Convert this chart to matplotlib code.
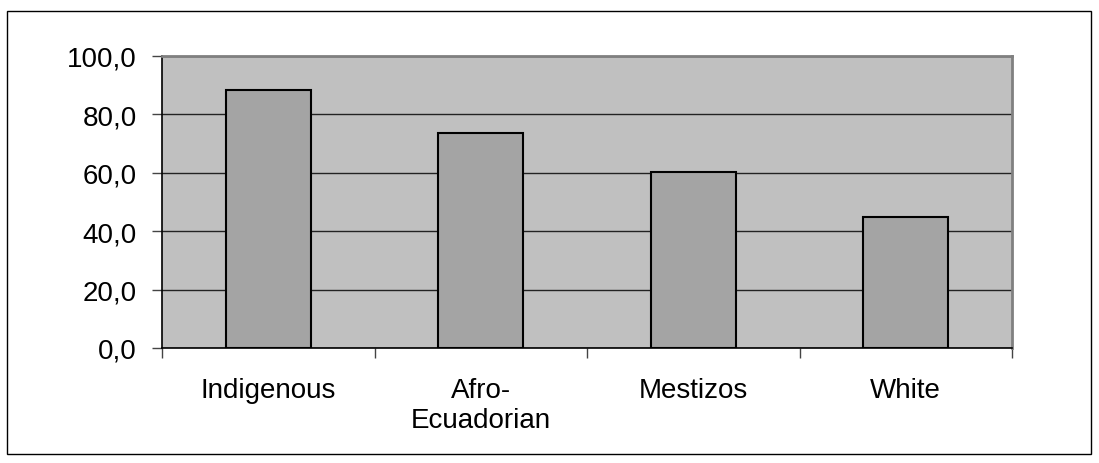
import matplotlib.pyplot as plt
from matplotlib.patches import Rectangle
from matplotlib.ticker import FuncFormatter, FixedLocator

categories = ['Indigenous', 'Afro-\nEcuadorian', 'Mestizos', 'White']
values = [88.3, 73.7, 60.4, 44.7]
yticks = [0, 20, 40, 60, 80, 100]

plt.rcParams['font.family'] = ['Liberation Sans', 'DejaVu Sans']

fig = plt.figure(figsize=(10.99, 4.64), dpi=100)
ax = fig.add_axes([162 / 1099, 1 - 349 / 464, 850 / 1099, 292 / 464])

# outer chart border
fig.patches.append(Rectangle((7 / 1099, 1 - 455 / 464), 1084 / 1099, 443 / 464,
                             transform=fig.transFigure, fill=False,
                             edgecolor='black', linewidth=1.0))

ax.set_facecolor('#c0c0c0')
x = range(len(categories))
ax.bar(x, values, width=0.4, color='#a4a4a4', edgecolor='black', linewidth=1.5, zorder=3)

ax.set_xlim(-0.5, len(categories) - 0.5)
ax.set_ylim(0, 100)
ax.set_yticks(yticks)
ax.yaxis.set_major_formatter(FuncFormatter(lambda v, p: ('%.1f' % v).replace('.', ',')))
ax.grid(axis='y', color='#222222', linewidth=1.0, zorder=1)

ax.set_xticks(list(x))
ax.set_xticklabels(categories, linespacing=1.2)
ax.xaxis.set_minor_locator(FixedLocator([i - 0.5 for i in range(len(categories) + 1)]))
ax.tick_params(axis='x', which='major', length=0, pad=21, labelsize=20)
ax.tick_params(axis='x', which='minor', length=7, width=1.0, color='#444444')
ax.tick_params(axis='y', length=7, width=1.0, pad=11, labelsize=20, color='#444444')

for side in ['left', 'bottom']:
    ax.spines[side].set_color('black')
    ax.spines[side].set_linewidth(1.2)
for side in ['top', 'right']:
    ax.spines[side].set_color('#808080')
    ax.spines[side].set_linewidth(2.0)

fig.savefig('out.png', dpi=100)
